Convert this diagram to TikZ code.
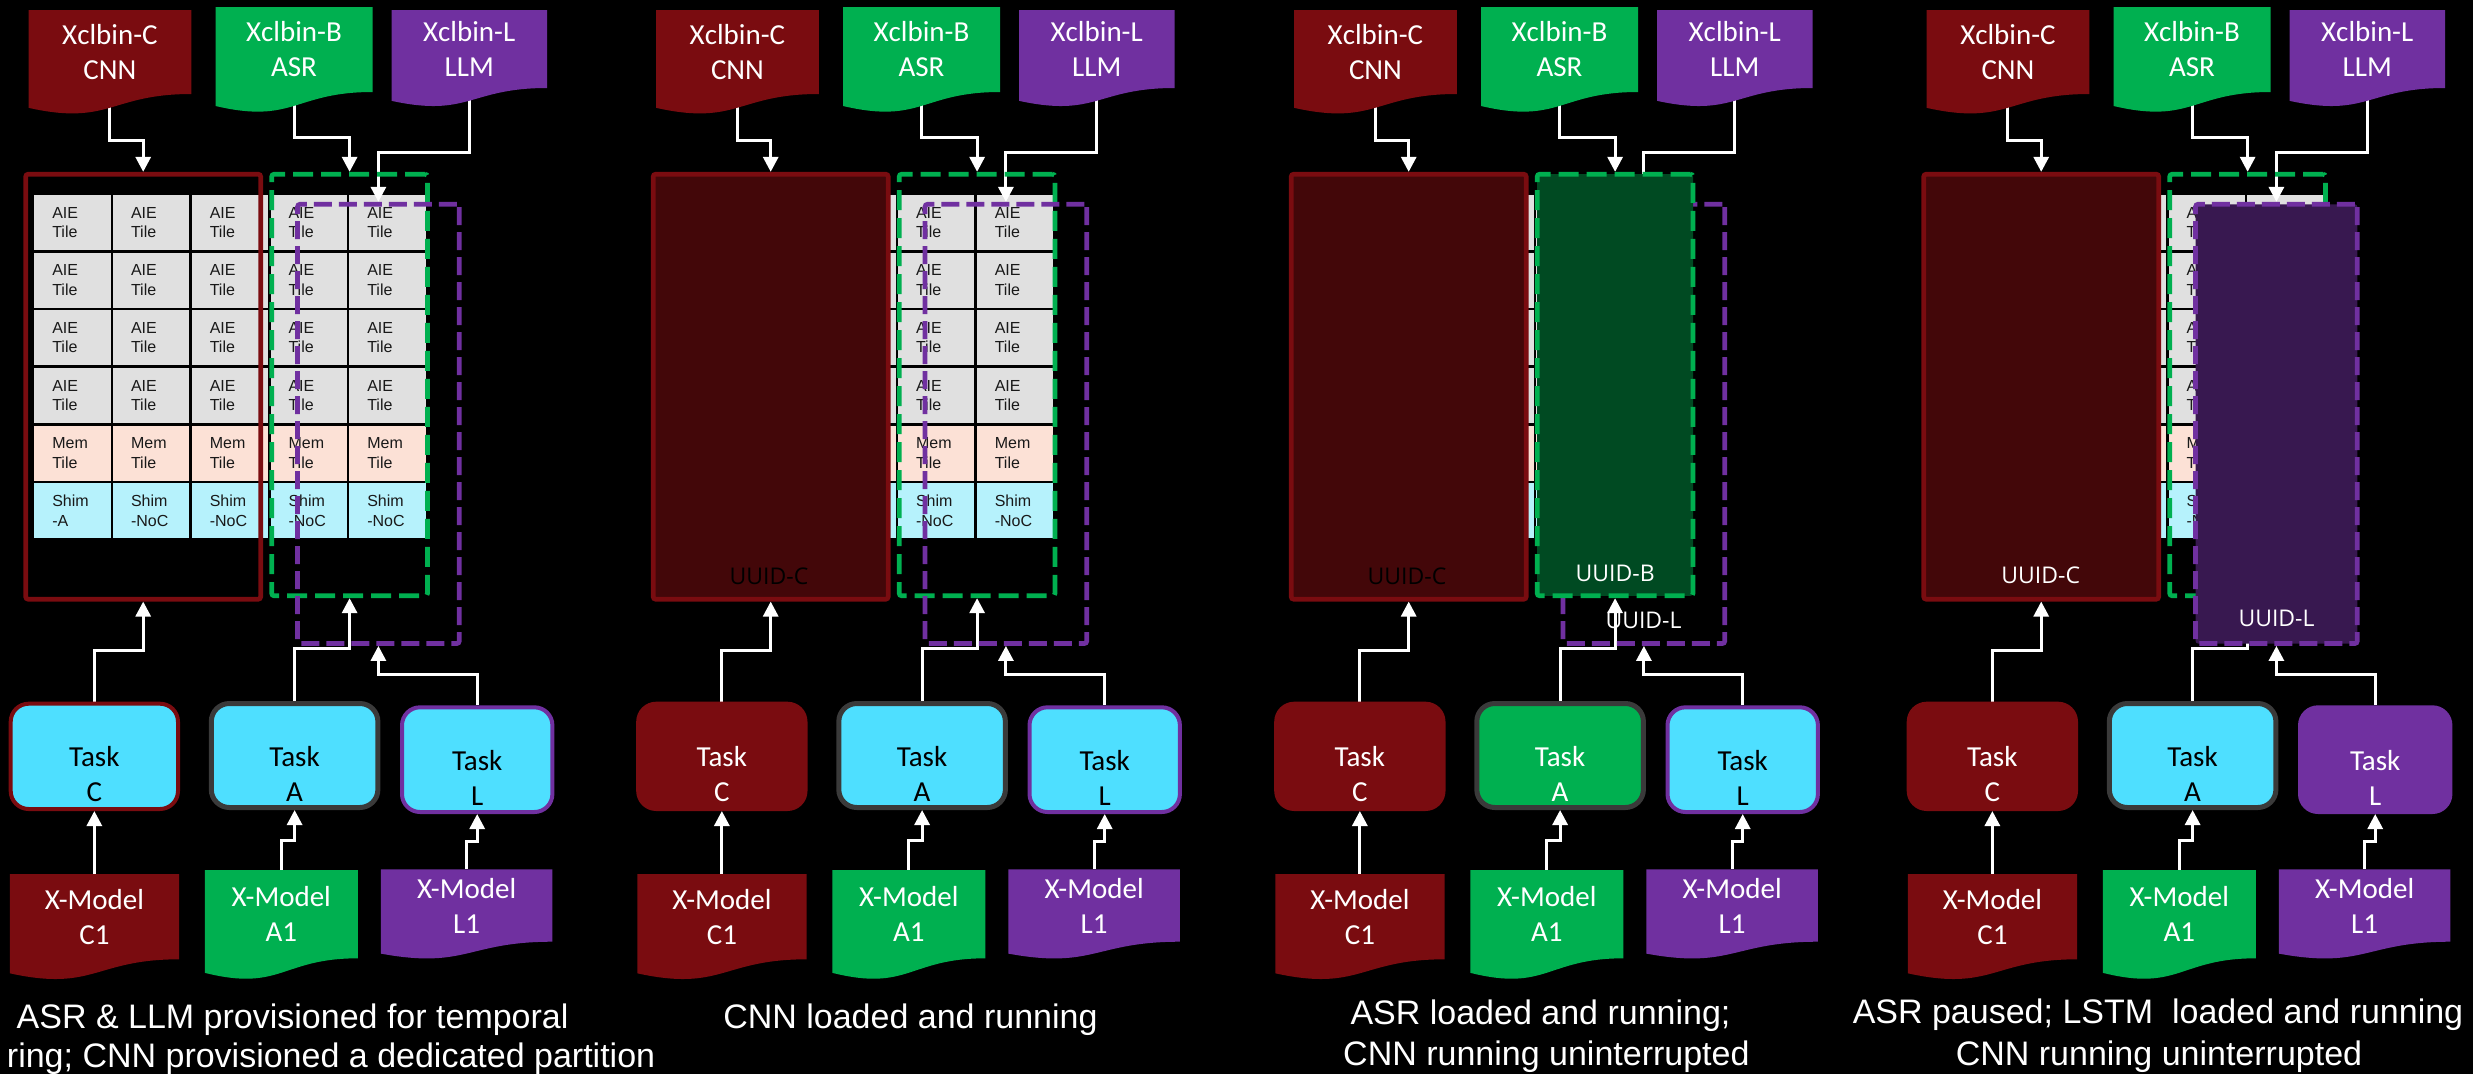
\documentclass[tikz,border=0pt]{standalone}
\usepackage{fontspec}
\setmainfont{Liberation Sans}
\newfontfamily\calfont{Carlito}
\newfontfamily\uidfont{Open Sans}
\usetikzlibrary{arrows.meta}

\pgfdeclarelayer{bg}
\pgfdeclarelayer{wires}
\pgfsetlayers{bg,wires,main}

\definecolor{cnnred}{RGB}{122,12,16}
\definecolor{asrgreen}{RGB}{0,176,80}
\definecolor{llmpurple}{RGB}{112,48,160}
\definecolor{taskcyan}{RGB}{78,223,255}
\definecolor{aiegray}{RGB}{224,224,224}
\definecolor{mempeach}{RGB}{252,225,214}
\definecolor{shimcyan}{RGB}{182,242,252}
\definecolor{edgegray}{RGB}{58,58,58}

\tikzset{
  wire/.style={draw=white, line width=3pt},
  arr/.style={wire, -{Triangle[width=15pt,length=15pt]}},
  doclabel/.style={inner sep=0pt, outer sep=0pt, text=white, align=center,
    font=\calfont\fontsize{29}{35}\selectfont},
  tile/.style={inner xsep=18pt, inner ysep=0pt, outer sep=0pt, text width=40.3pt,
    minimum height=55pt, align=left, text=black!90, font=\fontsize{16}{19.4}\selectfont},
  taskbox/.style={rounded corners=18pt, inner sep=0pt, line width=4pt, fill=taskcyan},
  tasklabel/.style={inner sep=0pt, align=center, font=\calfont\fontsize{29}{35}\selectfont},
  tcnn/.style={taskbox, draw=cnnred},
  tasr/.style={taskbox, draw=edgegray, line width=5pt},
  tllm/.style={taskbox, draw=llmpurple},
  tcnnrun/.style={taskbox, draw=cnnred, fill=cnnred},
  tasrrun/.style={taskbox, draw=edgegray, line width=5pt, fill=asrgreen},
  tllmrun/.style={taskbox, draw=llmpurple, fill=llmpurple},
  part/.style={inner sep=0pt, line width=4.7pt, rounded corners=2.5pt},
  cnnpart/.style={part, draw=cnnred, minimum width=235pt, minimum height=425pt},
  asrpart/.style={part, draw=asrgreen, dash pattern=on 20pt off 8pt,
    minimum width=155.8pt, minimum height=421.6pt},
  llmpart/.style={part, draw=llmpurple, dash pattern=on 18pt off 7pt,
    minimum width=161.7pt, minimum height=439.3pt},
  cnnbusy/.style={fill=cnnred!55!black},
  asrbusy/.style={fill=asrgreen!42!black},
  llmbusy/.style={fill=llmpurple!50!black},
  caption/.style={text=white, inner sep=0pt, anchor=base, font=\fontsize{34}{40}\selectfont},
  uuid/.style={inner sep=0pt, font=\uidfont\fontsize{23}{28}\selectfont},
}

% wavy-bottom document: name, left, top, right, bottom of straight edge, colour, text
\newcommand\docshape[7]{%
  \fill[#6] (#2,#3) -- (#4,#3) -- (#4,#5)
    .. controls ({(#2+#4)/2},#5) and ({(#2+#4)/2},{#3+1.381*(#5-#3)})
    .. (#2,{#3+1.1646*(#5-#3)}) -- cycle;
  \node[doclabel, minimum width={(#4-#2)*1pt}, minimum height={(#5-#3)*1pt}]
    (#1) at ({(#2+#4)/2},{(#3+#5)/2}) {#7};
}

% AIE array: 5 columns x 6 rows
\newcommand\tilegrid[1]{%
  \begin{pgfonlayer}{bg}
  \foreach \cc in {0,...,4}{
    \foreach \rr in {0,...,5}{
      \ifnum\rr<4 \def\tfill{aiegray}\def\ttext{AIE\\Tile}\fi
      \ifnum\rr=4 \def\tfill{mempeach}\def\ttext{Mem\\Tile}\fi
      \ifnum\rr=5 \def\tfill{shimcyan}%
        \ifnum\cc=0 \def\ttext{Shim\\-A}\else\def\ttext{Shim\\-NoC}\fi\fi
      \node[tile, fill=\tfill] (#1t\rr\cc) at ({72.45+78.75*\cc},{222.5+57.65*\rr}) {\ttext};
    }
  }
  \end{pgfonlayer}
}

\newcommand\docset[1]{%
  \docshape{#1dC}{28.5}{10}{191.4}{94}{cnnred}{Xclbin-C\\CNN}
  \docshape{#1dB}{215.5}{7}{372.5}{92}{asrgreen}{Xclbin-B\\ASR}
  \docshape{#1dL}{391.5}{10}{547}{88}{llmpurple}{Xclbin-L\\LLM}
  \docshape{#1xC}{9.9}{874}{179}{959.3}{cnnred}{X-Model\\C1}
  \docshape{#1xA}{204.8}{870}{357.8}{958.3}{asrgreen}{X-Model\\A1}
  \docshape{#1xL}{380.8}{869.3}{552.4}{941.7}{llmpurple}{X-Model\\L1}
}

% tasks: prefix, C style, C text colour, A style, A text colour, L style, L text colour
\newcommand\taskset[7]{%
  \node[#2, minimum width=167.3pt, minimum height=105.3pt] (#1tC) at (94.35,756.35) {};
  \node[tasklabel, text=#3] (#1tCl) at ([yshift=-18pt]#1tC.center) {Task\\C};
  \node[#4, minimum width=166.6pt, minimum height=104pt] (#1tA) at (294.6,755.5) {};
  \node[tasklabel, text=#5] (#1tAl) at ([yshift=-18pt]#1tA.center) {Task\\A};
  \node[#6, minimum width=150.4pt, minimum height=104.7pt] (#1tL) at (477.2,759.65) {};
  \node[tasklabel, text=#7] (#1tLl) at ([yshift=-18pt]#1tL.center) {Task\\L};
}

\newcommand\wires[1]{%
  \begin{pgfonlayer}{wires}
  \draw[arr] (#1dC.south) |- ([yshift=31pt]#1R.north) -- (#1R.north);
  \draw[arr] (#1dB.south) |- ([yshift=34pt]#1G.north) -- (#1G.north);
  \draw[arr] (#1dL.south) |- ([yshift=49pt]#1P.north) -- (#1P.north);
  \draw[arr] (#1tC.north) |- ([yshift=-48.5pt]#1R.south) -- (#1R.south);
  \draw[arr] (#1tA.north) |- ([yshift=-50pt]#1G.south) -- (#1G.south);
  \draw[arr] (#1tL.north) |- ([yshift=-29pt]#1P.south) -- (#1P.south);
  \draw[arr] (#1xC.north) -- ([yshift=32pt]#1xC.north) -| (#1tC.south);
  \draw[arr] (#1xA.north) -- ([yshift=30pt]#1xA.north) -| (#1tA.south);
  \draw[arr] (#1xL.north) -- ([yshift=28pt]#1xL.north) -| (#1tL.south);
  \end{pgfonlayer}
}

\begin{document}
\begin{tikzpicture}[x=1pt,y=-1pt]
\begin{pgfonlayer}{bg}
  \fill[black] (0,0) rectangle (2473,1074);
\end{pgfonlayer}
\useasboundingbox (0,0) rectangle (2473,1074);

% --- stage 1: all three provisioned
\begin{scope}
  \tilegrid{a}
  \node[cnnpart] (aR) at (143.2,386.7) {};
  \node[asrpart] (aG) at (349.6,385) {};
  \node[llmpart] (aP) at (378.4,423.9) {};
  \docset{a}
  \taskset{a}{tcnn}{black}{tasr}{black}{tllm}{black}
  \wires{a}
\end{scope}

% --- stage 2: CNN running
\begin{scope}[xshift=627.5pt]
  \tilegrid{b}
  \node[cnnpart, cnnbusy] (bR) at (143.2,386.7) {};
  \node[uuid, text=black] (bRid) at (141.5,576.7) {UUID-C};
  \node[asrpart] (bG) at (349.6,385) {};
  \node[llmpart] (bP) at (378.4,423.9) {};
  \docset{b}
  \taskset{b}{tcnnrun}{white}{tasr}{black}{tllm}{black}
  \wires{b}
\end{scope}

% --- stage 3: ASR running beside CNN
\begin{scope}[xshift=1265.5pt]
  \tilegrid{c}
  \node[cnnpart, cnnbusy] (cR) at (143.2,386.7) {};
  \node[uuid, text=black] (cRid) at (141.5,576.7) {UUID-C};
  \node[llmpart] (cP) at (378.4,423.9) {};
  \node[asrpart, asrbusy] (cG) at (349.6,385) {};
  \node[uuid, text=white] (cGid) at (349.7,573.3) {UUID-B};
  \node[uuid, text=white] (cPid) at (378,620) {UUID-L};
  \docset{c}
  \taskset{c}{tcnnrun}{white}{tasrrun}{white}{tllm}{black}
  \wires{c}
\end{scope}

% --- stage 4: LLM swapped in for ASR
\begin{scope}[xshift=1898pt]
  \tilegrid{d}
  \node[cnnpart, cnnbusy] (dR) at (143.2,386.7) {};
  \node[uuid, text=white] (dRid) at (142.7,575) {UUID-C};
  \node[asrpart] (dG) at (349.6,385) {};
  \node[llmpart, llmbusy] (dP) at (378.4,423.9) {};
  \node[uuid, text=white] (dPid) at (378.5,618.3) {UUID-L};
  \docset{d}
  \taskset{d}{tcnnrun}{white}{tasr}{black}{tllmrun}{white}
  \wires{d}
\end{scope}

% --- captions
\node[caption] (cap1a) at (292.6,1028.4) {ASR \& LLM provisioned for temporal};
\node[caption, anchor=base east] (cap1b) at (655.4,1067.5) {ring; CNN provisioned a dedicated partition};
\node[caption] (cap2) at (910.4,1028.4) {CNN loaded and running};
\node[caption] (cap3a) at (1540.5,1024.4) {ASR loaded and running;};
\node[caption] (cap3b) at (1546.4,1065) {CNN running uninterrupted};
\node[caption] (cap4a) at (2158,1023.4) {ASR paused; LSTM\ \ loaded and running};
\node[caption] (cap4b) at (2159,1065) {CNN running uninterrupted};
\end{tikzpicture}
\end{document}
